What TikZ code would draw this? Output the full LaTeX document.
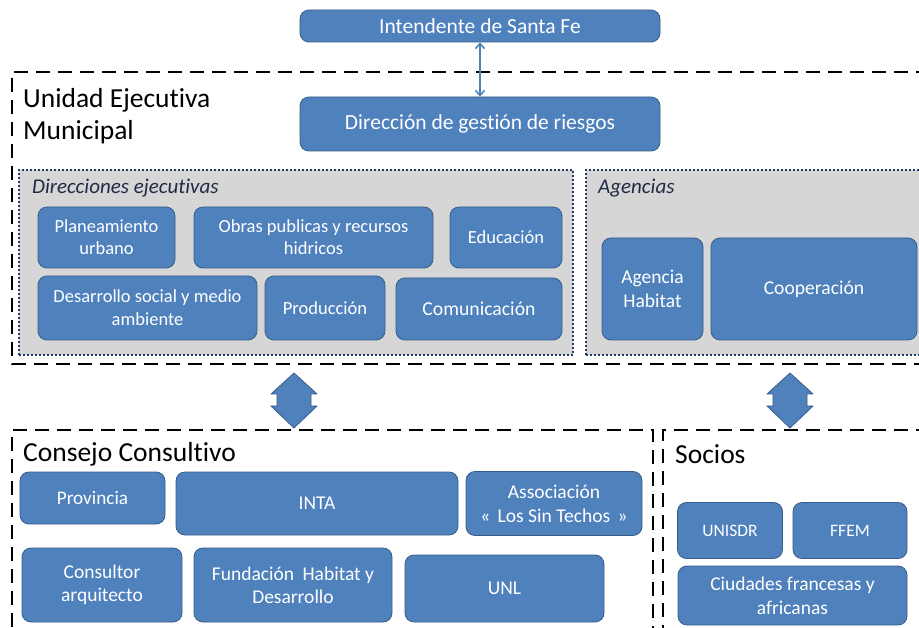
\documentclass[tikz,border=0pt]{standalone}
\usepackage{fontspec}
\setmainfont{Carlito}[Ligatures=NoCommon]
\usepackage{tikz}
\usetikzlibrary{calc,arrows.meta}
\definecolor{boxblue}{HTML}{4F81BD}
\definecolor{boxedge}{HTML}{385D8A}
\definecolor{panelgray}{HTML}{D6D6D6}
\definecolor{paneledge}{HTML}{1F3864}
\definecolor{paneltext}{HTML}{1F2A44}
\tikzset{
  box/.style={draw=boxedge, fill=boxblue, line width=0.8pt, rounded corners=9pt,
    text=white, align=center, inner sep=0pt, font=\fontsize{18.5}{23}\selectfont},
  panel/.style={draw=paneledge, fill=panelgray, line width=2pt, dotted, inner sep=0pt},
  group/.style={draw=black, line width=2.6pt, dash pattern=on 14pt off 8pt},
  title/.style={anchor=west, align=left, inner sep=0pt, font=\fontsize{27.5}{32}\selectfont},
  plab/.style={anchor=west, inner sep=0pt, text=paneltext, font=\fontsize{21}{24}\selectfont\itshape},
  link/.style={draw=boxblue, line width=1.6pt, {Straight Barb[length=5pt,width=9pt]}-{Straight Barb[length=5pt,width=9pt]}},
  bigarrow/.style={draw=boxedge, fill=boxblue, line width=0.8pt, line join=round},
}

\begin{document}
\begin{tikzpicture}[x=1pt,y=-1pt]
  \clip (0,0) rectangle (919,628);
  \fill[white] (0,0) rectangle (919,628);

  % dashed groups
  \draw[group] (930,72) -- (12,72) -- (12,364) -- (930,364);
  \draw[group] (653,640) -- (653,430) -- (12,430) -- (12,640);
  \draw[group] (930,430) -- (663,430) -- (663,640);
  \node[title] (uem) at (23,116) {Unidad Ejecutiva\\Municipal};
  \node[title] (consejo) at (23,454) {Consejo Consultivo};
  \node[title] (socios) at (675,454) {Socios};

  % dotted panels
  \node[panel, minimum width=554, minimum height=185] (dirpanel) at (296,262.5) {};
  \node[panel, minimum width=350, minimum height=185] (agpanel) at (761,262.5) {};
  \node[plab] (dirlab) at (32,188) {Direcciones ejecutivas};
  \node[plab] (aglab) at (598,188) {Agencias};

  % top
  \node[box, minimum width=360, minimum height=32, font=\fontsize{21.5}{24}\selectfont] (intendente) at (480,26) {Intendente de Santa Fe};
  \node[box, minimum width=360, minimum height=54, font=\fontsize{21.5}{24}\selectfont] (direccion) at (480,124) {Dirección de gestión de riesgos};
  \draw[link] (intendente) -- (direccion);

  % direcciones ejecutivas
  \node[box, minimum width=137, minimum height=61, font=\fontsize{18.5}{22}\selectfont] (planeamiento) at (106.5,237.5) {Planeamiento\\urbano};
  \node[box, minimum width=239, minimum height=61, font=\fontsize{18.5}{22}\selectfont] (obras) at (313.5,237.5) {Obras publicas y recursos\\hidricos};
  \node[box, minimum width=112, minimum height=61] (educacion) at (506,237.5) {Educación};
  \node[box, minimum width=219, minimum height=64] (desarrollo) at (147.5,308) {Desarrollo social y medio\\ambiente};
  \node[box, minimum width=120, minimum height=64] (produccion) at (325,308) {Producción};
  \node[box, minimum width=166, minimum height=62, font=\fontsize{19.7}{23}\selectfont] (comunicacion) at (479,309) {Comunicación};

  % agencias
  \node[box, minimum width=101, minimum height=102, font=\fontsize{19.5}{24}\selectfont] (habitat) at (652.5,289) {Agencia\\Habitat};
  \node[box, minimum width=206, minimum height=102, font=\fontsize{19.6}{23}\selectfont] (cooperacion) at (814,289) {Cooperación};

  % block arrows
  \foreach \x in {294,790}{
    \draw[bigarrow] (\x,373) -- (\x+23,394) -- (\x+17,394) -- (\x+17,406) -- (\x+23,406)
      -- (\x,428) -- (\x-23,406) -- (\x-17,406) -- (\x-17,394) -- (\x-23,394) -- cycle;
  }

  % consejo consultivo
  \node[box, minimum width=145, minimum height=52, font=\fontsize{19.2}{23}\selectfont] (provincia) at (92.5,498) {Provincia};
  \node[box, minimum width=282, minimum height=63, font=\fontsize{19.5}{23}\selectfont] (inta) at (317,503.5) {INTA};
  \node[box, minimum width=176, minimum height=64, font=\fontsize{19.5}{24}\selectfont] (associacion) at (554,503.5) {Associación\\«\hspace{3pt} Los Sin Techos \hspace{3pt}»};
  \node[box, minimum width=160, minimum height=74, font=\fontsize{19.5}{23}\selectfont] (consultor) at (102,585) {Consultor\\arquitecto};
  \node[box, minimum width=198, minimum height=74, font=\fontsize{19.5}{23}\selectfont] (fundacion) at (293,585) {Fundación\hspace{4pt} Habitat y\\Desarrollo};
  \node[box, minimum width=199, minimum height=67, font=\fontsize{19.5}{23}\selectfont] (unl) at (504.5,588.5) {UNL};

  % socios
  \node[box, minimum width=105, minimum height=56, font=\fontsize{17.5}{22}\selectfont] (unisdr) at (730,530.5) {UNISDR};
  \node[box, minimum width=114, minimum height=56, font=\fontsize{17.5}{22}\selectfont] (ffem) at (850,530.5) {FFEM};
  \node[box, minimum width=229, minimum height=59, font=\fontsize{19.5}{24}\selectfont] (ciudades) at (792.5,595.5) {Ciudades francesas y\\africanas};
\end{tikzpicture}
\end{document}
